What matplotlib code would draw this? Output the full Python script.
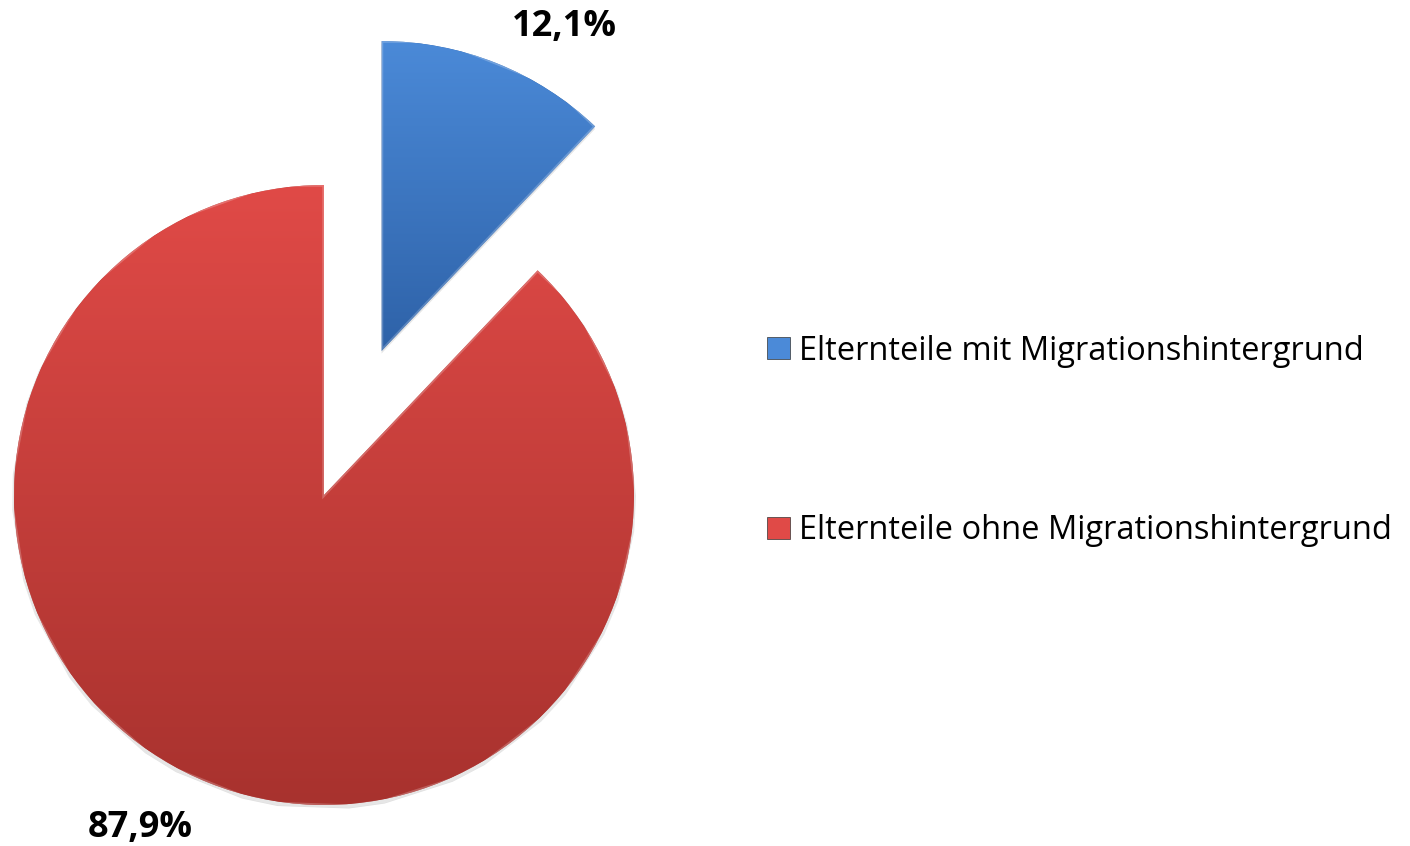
import matplotlib.pyplot as plt
import numpy as np
from matplotlib.colors import LinearSegmentedColormap
from matplotlib.patches import Patch

labels = ["Elternteile mit Migrationshintergrund", "Elternteile ohne Migrationshintergrund"]
values = [12.1, 87.9]
value_labels = ["12,1%", "87,9%"]
explode = [0.5, 0.0]
top_colors = ["#4b8ad8", "#e04a47"]
bottom_colors = ["#2e62a8", "#a8322e"]

# label spots (pie units, red wedge centre = origin)
label_pos = [(0.777, 1.51), (-0.594, -1.074)]

plt.rcParams["font.family"] = ["Open Sans", "DejaVu Sans"]

fig = plt.figure(figsize=(14.1, 8.46), dpi=100)
ax = fig.add_axes([0, 0, 1, 1])

wedges, _ = ax.pie(values, explode=explode, startangle=90, counterclock=False,
                   radius=1, wedgeprops=dict(linewidth=0))

grad = np.linspace(0, 1, 256).reshape(-1, 1)
for w, c1, c2 in zip(wedges, top_colors, bottom_colors):
    w.set_facecolor(c2)
    w.set_zorder(1)
    verts = w.get_path().vertices
    # light drop shadow
    shadow = plt.Polygon(verts + np.array([0.0, -0.008]), closed=True,
                         facecolor="#000000", alpha=0.12, linewidth=0, zorder=0.5)
    ax.add_patch(shadow)
    ext = w.get_path().get_extents()
    cmap = LinearSegmentedColormap.from_list("g", [c1, c2])
    im = ax.imshow(grad, cmap=cmap, origin="upper", aspect="auto", zorder=2,
                   extent=[ext.x0, ext.x1, ext.y0, ext.y1])
    im.set_clip_path(w)
    # soft bevel edge
    edge = plt.Polygon(verts, closed=True, fill=False,
                       edgecolor="white", alpha=0.22, linewidth=2.5, zorder=3)
    ax.add_patch(edge)

for txt, (x, y) in zip(value_labels, label_pos):
    ax.text(x, y, txt, ha="center", va="center", fontsize=26, fontweight="bold")

handles = [Patch(facecolor=c, edgecolor="#333333", linewidth=0.5) for c in top_colors]
ax.legend(handles, labels, loc="center left", bbox_to_anchor=(751 / 1410, 1 - 441 / 846),
          frameon=False, fontsize=23.5, handlelength=0.68, handleheight=0.68,
          handletextpad=0.3, labelspacing=4.5, borderpad=0)

ax.set_xlim(-324 / 310, (1410 - 324) / 310)
ax.set_ylim((495 - 846) / 310, 495 / 310)
ax.set_aspect("auto")
ax.axis("off")

fig.savefig("out.png", dpi=100)
